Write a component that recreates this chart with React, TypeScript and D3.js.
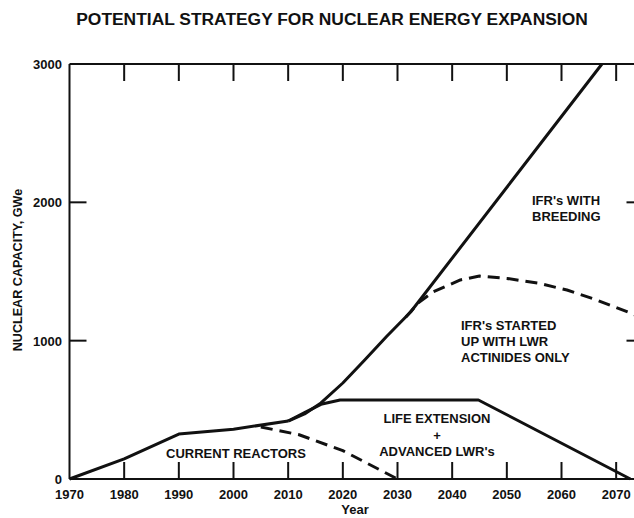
import React from "react";
import * as d3 from "d3";

const W = 634;
const H = 518;

const currentYears = [1970, 1980, 1990, 2000, 2010];
const currentValues = [0, 145, 325, 360, 419];

const retireYears = [2005, 2012, 2020, 2030];
const retireValues = [376, 320, 205, 0];

const lifeExtYears = [2010, 2013, 2016, 2019.5, 2044.8, 2072.6];
const lifeExtValues = [419, 480, 540, 571, 571, 0];

const breedingYears = [2010, 2013, 2016, 2020, 2024, 2028, 2032.4, 2067.4];
const breedingValues = [419, 470, 550, 694, 860, 1030, 1207, 3000];

const actinideYears = [2031.5, 2034, 2036.5, 2041.5, 2045, 2050, 2055.6, 2061, 2066, 2072.6, 2075];
const actinideValues = [1170, 1280, 1352, 1439, 1467, 1450, 1417, 1366, 1300, 1200, 1160];

const xTicks = [1970, 1980, 1990, 2000, 2010, 2020, 2030, 2040, 2050, 2060, 2070];
const yTicks = [0, 1000, 2000, 3000];

const FONT = "'Liberation Sans', Arial, Helvetica, sans-serif";

export default function App() {
  const x = d3.scaleLinear().domain([1970, 2075]).range([69.5, 643.5]);
  const y = d3.scaleLinear().domain([0, 3000]).range([479, 64]);
  const line = d3
    .line<[number, number]>()
    .x((d) => x(d[0]))
    .y((d) => y(d[1]))
    .curve(d3.curveLinear);
  const pts = (xs: number[], vs: number[]) => xs.map((v, i) => [v, vs[i]] as [number, number]);
  const tickLen = 17;
  const innerTicks = xTicks.filter((t) => t > 1970);
  const x0 = x(1970);
  const x1 = x(2075);
  const yTop = y(3000);
  const yBot = y(0);

  return (
    <svg
      width={W}
      height={H}
      style={{ position: "absolute", left: 0, top: 0, background: "#fff" }}
      fontFamily={FONT}
      fontWeight="bold"
    >
      <rect x={0} y={0} width={W} height={H} fill="#fff" />
      <text x={332} y={25} fontSize={17.4} textAnchor="middle" fill="#111">
        POTENTIAL STRATEGY FOR NUCLEAR ENERGY EXPANSION
      </text>

      {/* frame */}
      <g stroke="#111" strokeWidth={2} fill="none">
        <line x1={x0} y1={yTop} x2={x1} y2={yTop} />
        <line x1={x0} y1={yBot} x2={x1} y2={yBot} />
        <line x1={x0} y1={yTop} x2={x0} y2={yBot} />
        <line x1={x1} y1={yTop} x2={x1} y2={yBot} />
        {innerTicks.map((t) => (
          <g key={"xt" + t}>
            <line x1={x(t)} y1={yTop} x2={x(t)} y2={yTop + tickLen} />
            <line x1={x(t)} y1={yBot} x2={x(t)} y2={yBot - tickLen} />
          </g>
        ))}
        {yTicks
          .filter((t) => t > 0 && t < 3000)
          .map((t) => (
            <g key={"yt" + t}>
              <line x1={x0} y1={y(t)} x2={x0 + tickLen} y2={y(t)} />
              <line x1={x1} y1={y(t)} x2={x1 - tickLen} y2={y(t)} />
            </g>
          ))}
      </g>

      {/* tick labels */}
      <g fontSize={13} fill="#111">
        {xTicks.map((t) => (
          <text key={"xl" + t} x={x(t)} y={499} textAnchor="middle">
            {t}
          </text>
        ))}
        {yTicks.map((t) => (
          <text key={"yl" + t} x={62} y={y(t) + 5} textAnchor="end">
            {t}
          </text>
        ))}
      </g>

      <text x={355} y={514} fontSize={13} textAnchor="middle" fill="#111">
        Year
      </text>
      <text
        transform="translate(22,270) rotate(-90)"
        fontSize={12.6}
        textAnchor="middle"
        fill="#111"
      >
        NUCLEAR CAPACITY, GWe
      </text>

      {/* series */}
      <g fill="none" stroke="#111" strokeWidth={3} strokeLinejoin="round">
        <path d={line(pts(currentYears, currentValues)) || ""} />
        <path d={line(pts(lifeExtYears, lifeExtValues)) || ""} />
        <path d={line(pts(breedingYears, breedingValues)) || ""} />
        <path d={line(pts(retireYears, retireValues)) || ""} strokeDasharray="12 7" />
        <path d={line(pts(actinideYears, actinideValues)) || ""} strokeDasharray="12 7" />
      </g>

      {/* annotations */}
      <g fontSize={13} fill="#111">
        <text x={236} y={458} textAnchor="middle">CURRENT REACTORS</text>
        <text x={437} y={423} textAnchor="middle">LIFE EXTENSION</text>
        <text x={437} y={440} textAnchor="middle">+</text>
        <text x={437} y={456} textAnchor="middle">ADVANCED LWR's</text>
        <text x={532} y={205}>IFR's WITH</text>
        <text x={532} y={221}>BREEDING</text>
        <text x={461} y={330}>IFR's STARTED</text>
        <text x={461} y={346}>UP WITH LWR</text>
        <text x={461} y={362}>ACTINIDES ONLY</text>
      </g>
    </svg>
  );
}
